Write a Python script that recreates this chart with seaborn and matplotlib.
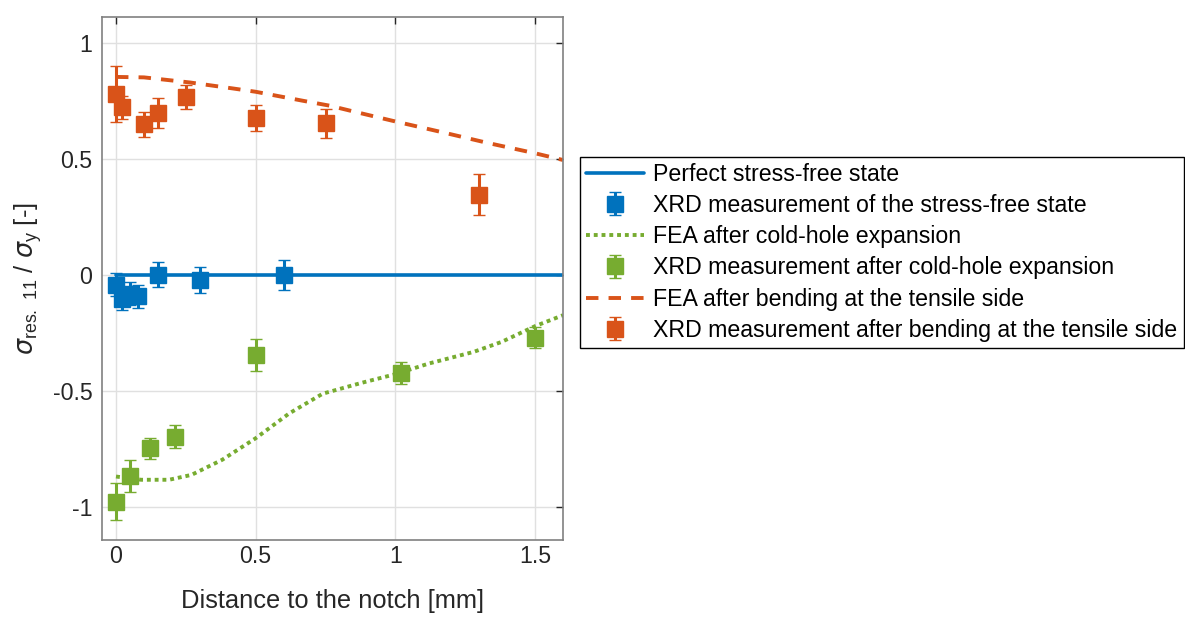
import numpy as np
import pandas as pd
import matplotlib
matplotlib.use("Agg")
import matplotlib.pyplot as plt
import seaborn as sns

# ---------------- data ----------------
# XRD measurement of the stress-free state
free_x = [0.0, 0.02, 0.05, 0.08, 0.15, 0.30, 0.60]
free_y = [-0.04, -0.10, -0.08, -0.09, 0.003, -0.02, 0.003]
free_e = [0.05, 0.05, 0.05, 0.05, 0.055, 0.055, 0.065]

# XRD measurement after cold-hole expansion
chx_x = [0.0, 0.05, 0.12, 0.21, 0.50, 1.02, 1.50]
chx_y = [-0.975, -0.865, -0.745, -0.695, -0.343, -0.42, -0.268]
chx_e = [0.08, 0.07, 0.045, 0.05, 0.068, 0.048, 0.045]

# XRD measurement after bending at the tensile side
bnd_x = [0.0, 0.02, 0.10, 0.15, 0.25, 0.50, 0.75, 1.30]
bnd_y = [0.78, 0.724, 0.65, 0.70, 0.767, 0.68, 0.655, 0.347]
bnd_e = [0.12, 0.05, 0.055, 0.063, 0.052, 0.056, 0.063, 0.088]

# FEA after cold-hole expansion
fea_ch_x = [0.0, 0.09, 0.19, 0.27, 0.38, 0.50, 0.62, 0.74, 0.88, 1.00, 1.12, 1.28, 1.38, 1.50, 1.60]
fea_ch_y = [-0.867, -0.881, -0.881, -0.86, -0.795, -0.702, -0.595, -0.51, -0.463, -0.426, -0.38, -0.33, -0.287, -0.219, -0.172]

# FEA after bending at the tensile side
fea_bd_x = [0.0, 0.10, 0.265, 0.42, 0.50, 0.67, 0.765, 0.84, 1.00, 1.17, 1.325, 1.50, 1.60]
fea_bd_y = [0.855, 0.853, 0.831, 0.805, 0.791, 0.752, 0.731, 0.709, 0.663, 0.616, 0.572, 0.526, 0.497]

# perfect stress-free state
ref_x = [0.0, 1.6]
ref_y = [0.0, 0.0]

labels = ["Perfect stress-free state",
          "XRD measurement of the stress-free state",
          "FEA after cold-hole expansion",
          "XRD measurement after cold-hole expansion",
          "FEA after bending at the tensile side",
          "XRD measurement after bending at the tensile side"]

xticks = [0, 0.5, 1, 1.5]
xticklabels = ["0", "0.5", "1", "1.5"]
yticks = [-1, -0.5, 0, 0.5, 1]
yticklabels = ["-1", "-0.5", "0", "0.5", "1"]

BLUE = "#0072BD"
ORANGE = "#D95319"
GREEN = "#77AC30"

# ---------------- plot ----------------
sns.set_theme(style="whitegrid")
plt.rcParams["font.family"] = ["Liberation Sans", "DejaVu Sans"]
plt.rcParams["mathtext.fontset"] = "custom"
plt.rcParams["mathtext.rm"] = "Liberation Sans"
plt.rcParams["mathtext.it"] = "DejaVu Sans:italic"

TICK_FS = 16.7
LABEL_FS = 18.4

fig = plt.figure(figsize=(11.85, 6.17), dpi=100)
ax = fig.add_axes([0.0861, 0.125, 0.389, 0.847])

sns.lineplot(x=ref_x, y=ref_y, ax=ax, color=BLUE, lw=2.6)
h_ref = ax.lines[-1]
sns.lineplot(x=fea_ch_x, y=fea_ch_y, ax=ax, color=GREEN, lw=2.8, linestyle=":")
h_fch = ax.lines[-1]
h_fch.set_dashes([1.0, 1.0])
sns.lineplot(x=fea_bd_x, y=fea_bd_y, ax=ax, color=ORANGE, lw=2.8, linestyle="--")
h_fbd = ax.lines[-1]
h_fbd.set_dashes([3.2, 2.6])

eb_kw = dict(fmt="s", markersize=11, elinewidth=2.2, capsize=4.5, capthick=2.2, mew=1)
h_free = ax.errorbar(free_x, free_y, yerr=free_e, color=BLUE, mec=BLUE, **eb_kw)
h_chx = ax.errorbar(chx_x, chx_y, yerr=chx_e, color=GREEN, mec=GREEN, **eb_kw)
h_bnd = ax.errorbar(bnd_x, bnd_y, yerr=bnd_e, color=ORANGE, mec=ORANGE, **eb_kw)

ax.set_xlim(-0.05, 1.6)
ax.set_ylim(-1.14, 1.112)
ax.set_xticks(xticks)
ax.set_xticklabels(xticklabels)
ax.set_yticks(yticks)
ax.set_yticklabels(yticklabels)
ax.grid(True, color="#e0e0e0", lw=1)
ax.set_axisbelow(True)
for s in ax.spines.values():
    s.set_color("#808080")
    s.set_linewidth(1.2)
    s.set_visible(True)
ax.tick_params(direction="in", length=5, width=1, colors="#262626",
               top=True, right=True, labelsize=TICK_FS)
ax.tick_params(axis="x", pad=4)
ax.tick_params(axis="y", pad=7)

ax.set_xlabel("Distance to the notch [mm]", fontsize=LABEL_FS, color="#262626", labelpad=15)
ax.set_ylabel(r"$\sigma_{\mathrm{res.\ 11}}$ / $\sigma_{\mathrm{y}}$ [-]", fontsize=LABEL_FS,
              color="#262626", labelpad=6)

leg = fig.legend([h_ref, h_free, h_fch, h_chx, h_fbd, h_bnd], labels,
                 loc="upper left", bbox_to_anchor=(0.4895, 0.746),
                 fontsize=TICK_FS, frameon=True, fancybox=False, framealpha=1,
                 edgecolor="black", handlelength=2.5, handletextpad=0.4,
                 labelspacing=0.355, borderpad=0.26, borderaxespad=0)
leg.get_frame().set_linewidth(1.0)
for t in leg.get_texts():
    t.set_color("black")

fig.savefig("out.png", dpi=100)
